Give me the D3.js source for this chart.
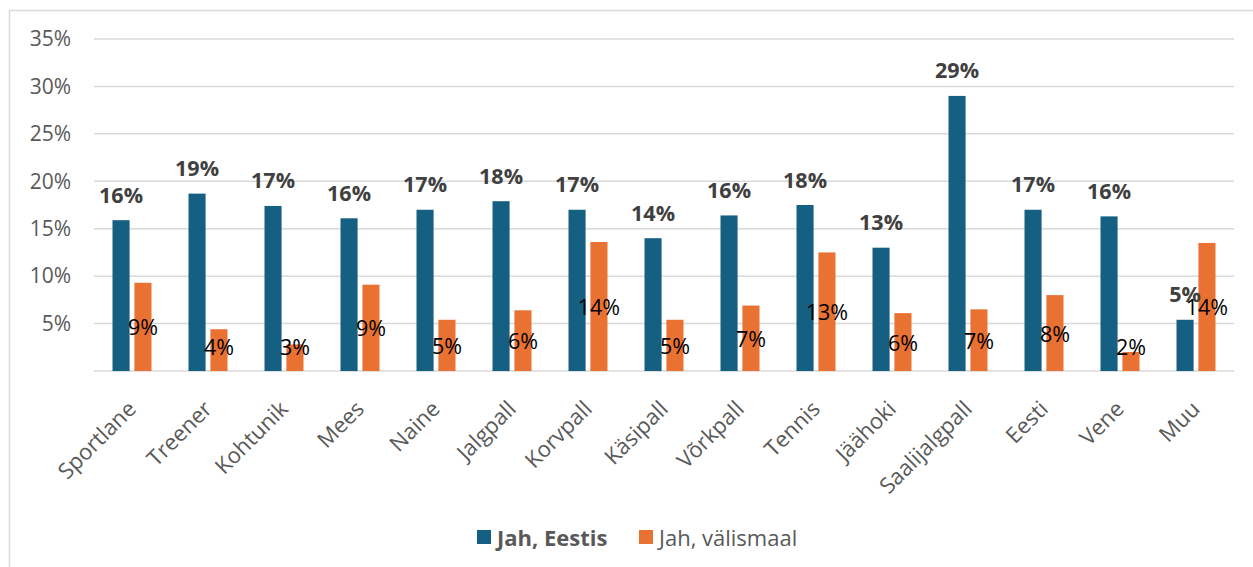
<!DOCTYPE html>
<html>
<head>
<meta charset="utf-8">
<script src="https://cdn.jsdelivr.net/npm/d3@7"></script>
<style>
  body { margin: 0; background: #fff; }
  svg { display: block; font-family: "Open Sans", "Noto Sans", sans-serif; }
</style>
</head>
<body>
<svg id="chart" width="1253" height="567"></svg>
<script>
// Chart data
const categories = ['Sportlane', 'Treener', 'Kohtunik', 'Mees', 'Naine', 'Jalgpall', 'Korvpall',
    'Käsipall', 'Võrkpall', 'Tennis', 'Jäähoki', 'Saalijalgpall', 'Eesti', 'Vene', 'Muu'];
const seriesNames = ['Jah, Eestis', 'Jah, välismaal'];
const eestis = [0.159, 0.187, 0.174, 0.161, 0.170, 0.179, 0.170, 0.140, 0.164, 0.175, 0.130, 0.290, 0.170, 0.163, 0.054];
const valismaal = [0.093, 0.044, 0.028, 0.091, 0.054, 0.064, 0.136, 0.054, 0.069, 0.125, 0.061, 0.065, 0.080, 0.020, 0.135];
const yTicks = [0.05, 0.10, 0.15, 0.20, 0.25, 0.30, 0.35];

const colors = ['#156082', '#E97132'];

const svg = d3.select('#chart');

// Outer chart frame
svg.append('rect')
    .attr('x', 9.5)
    .attr('y', 10.5)
    .attr('width', 1300)
    .attr('height', 600)
    .attr('fill', 'none')
    .attr('stroke', '#d9d9d9')
    .attr('stroke-width', 1.5);

const x0 = d3.scaleBand()
    .domain(categories)
    .range([94, 1234]);

const x1 = d3.scaleBand()
    .domain(seriesNames)
    .range([-19.5, 19.5])
    .paddingInner(0.22);

const y = d3.scaleLinear()
    .domain([0, 0.35])
    .range([371, 39]);

// Gridlines
svg.append('g')
    .selectAll('line')
    .data([0].concat(yTicks))
    .enter()
    .append('line')
    .attr('x1', 94)
    .attr('x2', 1234)
    .attr('y1', d => y(d))
    .attr('y2', d => y(d))
    .attr('stroke', '#d9d9d9')
    .attr('stroke-width', 1.5);

// Y axis labels (no 0%)
svg.append('g')
    .attr('transform', 'translate(71, 0)')
    .call(d3.axisLeft(y).tickValues(yTicks).tickFormat(d3.format('.0%')).tickSize(0).tickPadding(0))
    .call(g => g.select('.domain').remove())
    .selectAll('text')
    .attr('fill', '#595959')
    .attr('font-size', '21px')
    .attr('font-family', '"Open Sans", sans-serif');

// Bars
const rows = categories.map((c, i) => ({ cat: c, values: [eestis[i], valismaal[i]] }));

const groups = svg.append('g')
    .selectAll('g')
    .data(rows)
    .enter()
    .append('g')
    .attr('transform', d => `translate(${x0(d.cat) + x0.bandwidth() / 2}, 0)`);

groups.selectAll('rect')
    .data(d => d.values.map((v, k) => ({ key: seriesNames[k], k: k, v: v })))
    .enter()
    .append('rect')
    .attr('x', d => x1(d.key))
    .attr('width', x1.bandwidth())
    .attr('y', d => y(d.v))
    .attr('height', d => y(0) - y(d.v))
    .attr('fill', d => colors[d.k]);

// Value labels for Eestis (bold, above bar)
groups.append('text')
    .attr('x', x1(seriesNames[0]) + x1.bandwidth() / 2)
    .attr('y', d => y(d.values[0]) - 26)
    .attr('text-anchor', 'middle')
    .attr('dominant-baseline', 'central')
    .attr('font-size', '21.5px')
    .attr('font-weight', 'bold')
    .attr('fill', '#404040')
    .text(d => d3.format('.0%')(d.values[0]));

// Value labels for välismaal (centred in bar, kept off the axis)
groups.append('text')
    .attr('x', x1(seriesNames[1]) + x1.bandwidth() / 2)
    .attr('y', d => Math.min(y(d.values[1] / 2), y(0) - 25))
    .attr('text-anchor', 'middle')
    .attr('dominant-baseline', 'central')
    .attr('font-size', '21.5px')
    .attr('fill', '#000')
    .text(d => d3.format('.0%')(d.values[1]));

// Category labels, rotated
svg.append('g')
    .selectAll('text')
    .data(categories)
    .enter()
    .append('text')
    .attr('transform', d => `translate(${x0(d) + x0.bandwidth() / 2 - 1}, 404) rotate(-45)`)
    .attr('text-anchor', 'end')
    .attr('dominant-baseline', 'central')
    .attr('font-size', '22px')
    .attr('fill', '#595959')
    .text(d => d);

// Legend
const legend = svg.append('g').attr('transform', 'translate(477, 537)');
const legendItems = [{ name: seriesNames[0], x: 0, bold: true }, { name: seriesNames[1], x: 162, bold: false }];

legendItems.forEach((item, k) => {
    const g = legend.append('g').attr('transform', `translate(${item.x}, 0)`);
    g.append('rect')
        .attr('x', 0)
        .attr('y', -7)
        .attr('width', 14)
        .attr('height', 14)
        .attr('fill', colors[k]);
    g.append('text')
        .attr('x', 20)
        .attr('y', 0)
        .attr('dominant-baseline', 'central')
        .attr('font-size', '22px')
        .attr('font-weight', item.bold ? 'bold' : 'normal')
        .attr('fill', '#595959')
        .text(item.name);
});
</script>
</body>
</html>
